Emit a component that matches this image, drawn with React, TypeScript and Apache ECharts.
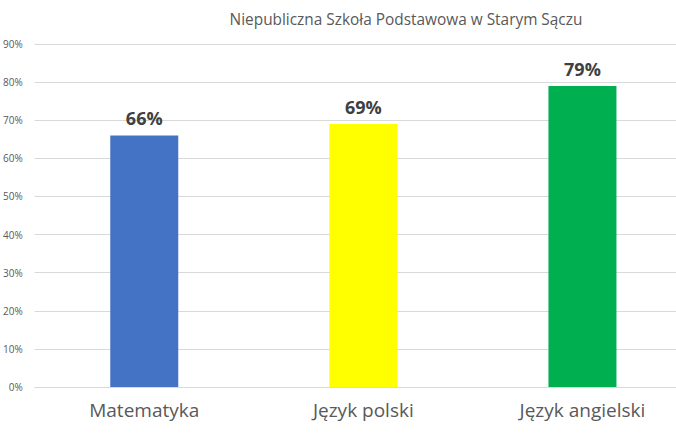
import React, { useEffect, useRef } from "react";
import * as echarts from "echarts";

const title = "Niepubliczna Szkoła Podstawowa w Starym Sączu";
const categories = ["Matematyka", "Język polski", "Język angielski"];
const values = [66, 69, 79];
const barColors = ["#4472C4", "#FFFF00", "#00B050"];
const yTicks = [0, 10, 20, 30, 40, 50, 60, 70, 80, 90];

export default function App() {
  const ref = useRef<HTMLDivElement>(null);
  useEffect(() => {
    document.body.style.margin = "0";
    const chart = echarts.init(ref.current!, null, { renderer: "svg" });
    const font = "'Open Sans', 'Noto Sans', sans-serif";
    chart.setOption({
      animation: false,
      title: {
        text: title,
        left: 401,
        top: 7,
        textAlign: "center",
        textStyle: { fontFamily: font, fontSize: 15.4, fontWeight: "normal", color: "#595959" },
      },
      grid: { left: 34.5, right: 0, top: 44, bottom: 47, containLabel: false },
      xAxis: {
        type: "category",
        data: categories,
        axisLine: { lineStyle: { color: "#d9d9d9" } },
        axisTick: { show: false },
        axisLabel: { fontFamily: font, fontSize: 19, color: "#595959", margin: 13 },
      },
      yAxis: {
        type: "value",
        min: yTicks[0],
        max: yTicks[yTicks.length - 1],
        interval: 10,
        axisLine: { show: false },
        axisTick: { show: false },
        splitLine: { lineStyle: { color: "#d9d9d9" } },
        axisLabel: {
          fontFamily: font,
          fontSize: 10,
          color: "#595959",
          margin: 12,
          formatter: (v: number) => `${v}%`,
        },
      },
      series: [
        {
          type: "bar",
          data: values.map((v, i) => ({ value: v, itemStyle: { color: barColors[i] } })),
          barWidth: 68,
          label: {
            show: true,
            position: "top",
            distance: 8,
            fontFamily: font,
            fontSize: 18,
            fontWeight: "bold",
            color: "#404040",
            formatter: (p: any) => `${p.value}%`,
          },
        },
      ],
    });
    return () => chart.dispose();
  }, []);
  return (
    <div style={{ width: 676, height: 434, overflow: "hidden" }}>
      <div ref={ref} style={{ width: 692, height: 434 }} />
    </div>
  );
}
